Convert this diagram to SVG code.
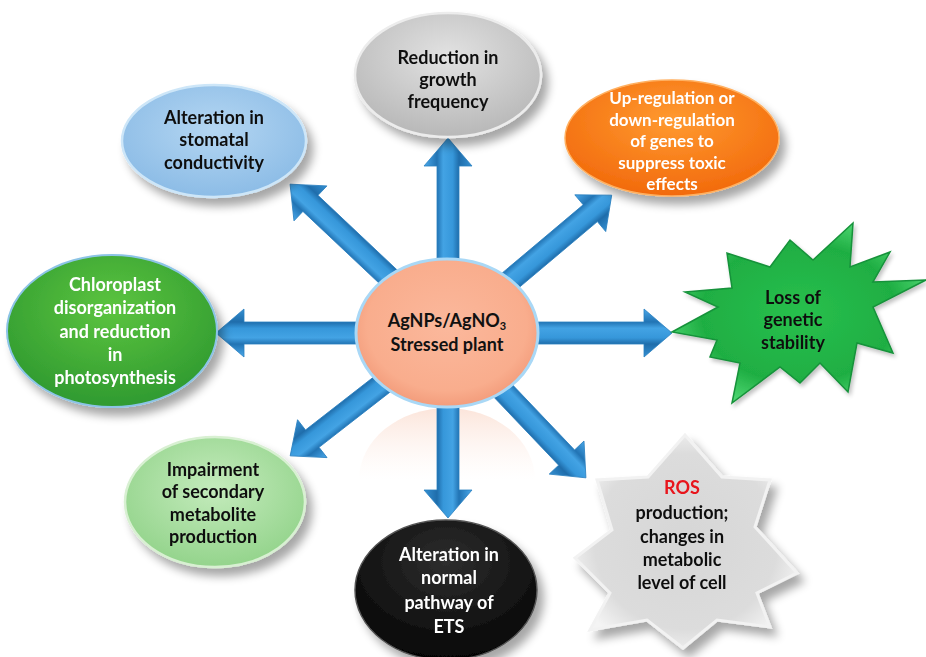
<svg xmlns="http://www.w3.org/2000/svg" width="926" height="657" viewBox="0 0 926 657">
<style>
.t{font-family:Lato,"Open Sans","Liberation Sans",sans-serif;font-weight:700;font-size:18px;text-anchor:middle;fill:#111}
.w{fill:#ffffff}
.s17{font-size:17px}
.red{fill:#e8141c}
.arrow{fill:url(#gArrow);stroke:#2a80c0;stroke-width:0.8}
</style>
<defs>
<filter id="sh" x="-25%" y="-25%" width="160%" height="170%">
<feGaussianBlur in="SourceAlpha" stdDeviation="5"/>
<feOffset dx="6" dy="8" result="b"/>
<feComponentTransfer><feFuncA type="linear" slope="0.35"/></feComponentTransfer>
<feMerge><feMergeNode/><feMergeNode in="SourceGraphic"/></feMerge>
</filter>
<filter id="shs" x="-20%" y="-20%" width="150%" height="150%">
<feGaussianBlur in="SourceAlpha" stdDeviation="2"/>
<feOffset dx="2" dy="3"/>
<feComponentTransfer><feFuncA type="linear" slope="0.25"/></feComponentTransfer>
<feMerge><feMergeNode/><feMergeNode in="SourceGraphic"/></feMerge>
</filter>
<linearGradient id="gArrow" x1="0" y1="0" x2="0" y2="1">
<stop offset="0" stop-color="#4aa8ea"/>
<stop offset="0.27" stop-color="#2274b4"/>
<stop offset="0.4" stop-color="#43a3e4"/>
<stop offset="0.6" stop-color="#3697da"/>
<stop offset="0.73" stop-color="#1f6dab"/>
<stop offset="1" stop-color="#3590d2"/>
</linearGradient>
<radialGradient id="gCenter" cx="0.5" cy="0.45" r="0.55">
<stop offset="0" stop-color="#fbb89c"/>
<stop offset="0.8" stop-color="#f9ad8d"/>
<stop offset="1" stop-color="#f39c7b"/>
</radialGradient>
<linearGradient id="gRefl" x1="0" y1="0" x2="0" y2="1">
<stop offset="0" stop-color="#f7c4ad" stop-opacity="0.45"/>
<stop offset="0.5" stop-color="#fde6dc" stop-opacity="0"/>
</linearGradient>
<radialGradient id="gStom" cx="0.5" cy="0.4" r="0.6">
<stop offset="0" stop-color="#b4d6f2"/>
<stop offset="1" stop-color="#8cbce6"/>
</radialGradient>
<radialGradient id="gGrey" cx="0.5" cy="0.35" r="0.65">
<stop offset="0" stop-color="#e2e2e2"/>
<stop offset="1" stop-color="#b8b8b8"/>
</radialGradient>
<radialGradient id="gOrange" cx="0.5" cy="0.35" r="0.65">
<stop offset="0" stop-color="#ff9a30"/>
<stop offset="1" stop-color="#f26a0c"/>
</radialGradient>
<radialGradient id="gChloro" cx="0.5" cy="0.35" r="0.65">
<stop offset="0" stop-color="#5cc43f"/>
<stop offset="1" stop-color="#2f9a30"/>
</radialGradient>
<radialGradient id="gLight" cx="0.5" cy="0.4" r="0.6">
<stop offset="0" stop-color="#c4ebbc"/>
<stop offset="1" stop-color="#94d48c"/>
</radialGradient>
<radialGradient id="gBlack" cx="0.5" cy="0.3" r="0.7">
<stop offset="0" stop-color="#2e2e2e"/>
<stop offset="1" stop-color="#050505"/>
</radialGradient>
<radialGradient id="gStar" cx="0.5" cy="0.5" r="0.55">
<stop offset="0" stop-color="#28c04d"/>
<stop offset="0.7" stop-color="#1fae43"/>
<stop offset="1" stop-color="#4fd873"/>
</radialGradient>
<radialGradient id="gRos" cx="0.5" cy="0.5" r="0.55">
<stop offset="0" stop-color="#d6d6d6"/>
<stop offset="0.75" stop-color="#dcdcdc"/>
<stop offset="1" stop-color="#f4f4f4"/>
</radialGradient>
</defs>

<rect width="926" height="657" fill="#ffffff"/>

<ellipse cx="447" cy="480" rx="88" ry="72" fill="url(#gRefl)"/>

<g id="connectors">
<polygon class="arrow" transform="translate(447,333)" points="50,-11 197,-11 197,-24 225,0 197,24 197,11 50,11"/>
<polygon class="arrow" transform="translate(447,333) rotate(180)" points="50,-11 203,-11 203,-24 231,0 203,24 203,11 50,11"/>
<polygon class="arrow" transform="translate(448,333) rotate(-90)" points="50,-11 167,-11 167,-24 195,0 167,24 167,11 50,11"/>
<polygon class="arrow" transform="translate(448,333) rotate(90)" points="50,-11 157,-11 157,-24 185,0 157,24 157,11 50,11"/>
<polygon class="arrow" transform="translate(448,333) rotate(-136.7)" points="50,-11 189,-11 189,-24 217,0 189,24 189,11 50,11"/>
<polygon class="arrow" transform="translate(448,333) rotate(-40.1)" points="50,-11 186,-11 186,-24 214,0 186,24 186,11 50,11"/>
<polygon class="arrow" transform="translate(448,333) rotate(142.1)" points="50,-11 172,-11 172,-24 200,0 172,24 172,11 50,11"/>
<polygon class="arrow" transform="translate(448,333) rotate(46.4)" points="50,-11 172,-11 172,-24 200,0 172,24 172,11 50,11"/>
</g>

<g id="node-center">
<ellipse cx="447" cy="333" rx="91" ry="74" fill="url(#gCenter)" stroke="#a9d8f6" stroke-width="3"/>
<text class="t" x="447" y="327">AgNPs/AgNO<tspan font-size="11" dy="3">3</tspan></text>
<text class="t" x="447" y="351">Stressed plant</text>
</g>

<g id="node-stomatal" filter="url(#sh)">
<ellipse cx="214" cy="141" rx="92" ry="56" fill="url(#gStom)" stroke="#cde6f8" stroke-width="2.5"/>
<text class="t" x="214" y="124">Alteration in</text>
<text class="t" x="214" y="146">stomatal</text>
<text class="t" x="214" y="169">conductivity</text>
</g>

<g id="node-growth" filter="url(#sh)">
<ellipse cx="448" cy="75" rx="93" ry="62" fill="url(#gGrey)" stroke="#ececec" stroke-width="2.5"/>
<text class="t" x="448" y="64">Reduction in</text>
<text class="t" x="448" y="86">growth</text>
<text class="t" x="448" y="108">frequency</text>
</g>

<g id="node-genes" filter="url(#sh)">
<ellipse cx="672" cy="138" rx="107" ry="58" fill="url(#gOrange)" stroke="#ffb060" stroke-width="1.5"/>
<text class="t w s17" x="672" y="104">Up-regulation or</text>
<text class="t w s17" x="672" y="126">down-regulation</text>
<text class="t w s17" x="672" y="147">of genes to</text>
<text class="t w s17" x="672" y="169">suppress toxic</text>
<text class="t w s17" x="672" y="190">effects</text>
</g>

<g id="node-genetic" filter="url(#shs)">
<polygon points="672,332 718,307 685,292 732,288 727,253 770,267 790,240 813,260 853,223 850,267 890,252 873,282 926,280 873,307 893,353 857,343 848,392 820,363 800,383 780,367 732,403 740,363 710,357 717,340" fill="url(#gStar)" stroke="#16923a" stroke-width="1.5" stroke-linejoin="miter"/>
<text class="t" x="793" y="304">Loss of</text>
<text class="t" x="793" y="326">genetic</text>
<text class="t" x="793" y="349">stability</text>
</g>

<g id="node-ros" filter="url(#sh)">
<polygon points="685,435 722,477 770,480 755,527 797,573 757,593 770,627 717,620 683,648 647,620 590,630 610,593 575,558 612,530 597,480 648,477" fill="url(#gRos)" stroke="#f2f2f2" stroke-width="3" stroke-linejoin="miter"/>
<text class="t red" x="682" y="494">ROS</text>
<text class="t" x="682" y="519">production;</text>
<text class="t" x="682" y="543">changes in</text>
<text class="t" x="682" y="566">metabolic</text>
<text class="t" x="682" y="589">level of cell</text>
</g>

<g id="node-ets" filter="url(#sh)">
<ellipse cx="446" cy="590" rx="91" ry="70" fill="url(#gBlack)" stroke="#555555" stroke-width="1.5"/>
<text class="t w" x="449" y="561">Alteration in</text>
<text class="t w" x="449" y="584">normal</text>
<text class="t w" x="449" y="609">pathway of</text>
<text class="t w" x="449" y="633">ETS</text>
</g>

<g id="node-secondary" filter="url(#sh)">
<ellipse cx="215" cy="502" rx="90" ry="65" fill="url(#gLight)" stroke="#d8f0d2" stroke-width="2.5"/>
<text class="t" x="213" y="476">Impairment</text>
<text class="t" x="213" y="498">of secondary</text>
<text class="t" x="213" y="521">metabolite</text>
<text class="t" x="213" y="543">production</text>
</g>

<g id="node-chloroplast" filter="url(#sh)">
<ellipse cx="112" cy="331" rx="105" ry="76" fill="url(#gChloro)" stroke="#8cc4e6" stroke-width="2"/>
<text class="t w" x="115" y="291">Chloroplast</text>
<text class="t w" x="115" y="314">disorganization</text>
<text class="t w" x="115" y="338">and reduction</text>
<text class="t w" x="115" y="361">in</text>
<text class="t w" x="115" y="384">photosynthesis</text>
</g>
</svg>
